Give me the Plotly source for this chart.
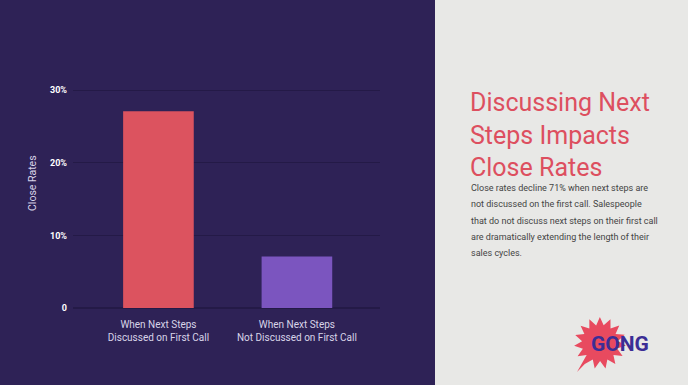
import numpy as np
import plotly.graph_objects as go

categories = ["When Next Steps<br>Discussed on First Call",
              "When Next Steps<br>Not Discussed on First Call"]
close_rates = [0.271, 0.071]
bar_colors = ["#dc535f", "#7b55bf"]
tick_vals = [0, 0.1, 0.2, 0.3]
tick_text = ["0", "10%", "20%", "30%"]
body_lines = ["Close rates decline 71% when next steps are",
              "not discussed on the first call. Salespeople",
              "that do not discuss next steps on their first call",
              "are dramatically extending the length of their",
              "sales cycles."]

W, H = 688, 385
def px(x): return x / W
def py(y): return 1 - y / H

BG_DARK = "#2e2256"
BG_LIGHT = "#e8e8e6"

fig = go.Figure()
fig.add_trace(go.Bar(
    x=[0, 1], y=close_rates, marker_color=bar_colors, width=0.51,
    marker_line_width=0, hoverinfo="skip"))

shapes = [dict(type="rect", xref="paper", yref="paper", x0=-0.05, x1=px(435), y0=-0.05, y1=1.05,
               fillcolor=BG_DARK, line_width=0, layer="below")]

# starburst logo background
cx, cy = 600, 343
pts = []
n = 15
for i in range(2 * n):
    ang = np.pi * i / n + 0.1
    r = 26 if i % 2 == 0 else 18
    pts.append((cx + r * np.cos(ang), cy + r * np.sin(ang)))
pts.insert(11, (577, 372))
path = "M " + " L ".join(f"{px(x):.4f},{py(y):.4f}" for x, y in pts) + " Z"
shapes.append(dict(type="path", xref="paper", yref="paper", path=path,
                   fillcolor="#e84a5f", line_width=0, layer="above"))

annotations = [
    dict(text="Discussing Next<br>Steps Impacts<br>Close Rates", xref="paper", yref="paper",
         x=px(468), y=py(86), xanchor="left", yanchor="top", align="left", showarrow=False,
         font=dict(family="Roboto", size=25, color="#dd4f5f")),
    dict(text="<b>GONG</b>", xref="paper", yref="paper", x=px(620), y=py(344),
         xanchor="center", yanchor="middle", showarrow=False,
         font=dict(family="Roboto", size=21, color="#3b2d95")),
    dict(text="Close Rates", xref="paper", yref="paper", x=px(32), y=py(183),
         xanchor="center", yanchor="middle", textangle=-90, showarrow=False,
         font=dict(family="Roboto", size=10.5, color="#d8d4e8")),
]
for i, line in enumerate(body_lines):
    annotations.append(dict(text=line, xref="paper", yref="paper", x=px(469), y=py(188 + 16.3 * i),
                            xanchor="left", yanchor="middle", align="left", showarrow=False,
                            font=dict(family="Roboto", size=9, color="#444444")))

fig.update_layout(
    width=W, height=H, margin=dict(l=0, r=0, t=0, b=0, autoexpand=False),
    paper_bgcolor=BG_LIGHT, plot_bgcolor="rgba(0,0,0,0)",
    showlegend=False, shapes=shapes, annotations=annotations,
    xaxis=dict(domain=[px(73), px(380)], range=[-0.617, 1.6], tickvals=[0, 1],
               ticktext=categories, showgrid=False, zeroline=False, showline=False,
               automargin=False, ticks="", ticklabelstandoff=9,
               tickfont=dict(family="Roboto", size=10, color="#d8d4e8")),
    yaxis=dict(domain=[py(308), py(89)], range=[0, 0.3015], tickvals=tick_vals,
               ticktext=[f"<b>{t}</b>" for t in tick_text], showgrid=True,
               gridcolor="#241a47", gridwidth=1, zeroline=True, zerolinecolor="#241a47",
               showline=False, ticks="", ticklabelstandoff=5, automargin=False,
               tickfont=dict(family="Roboto", size=9, color="#ffffff")),
)
fig.write_html("out.html")
